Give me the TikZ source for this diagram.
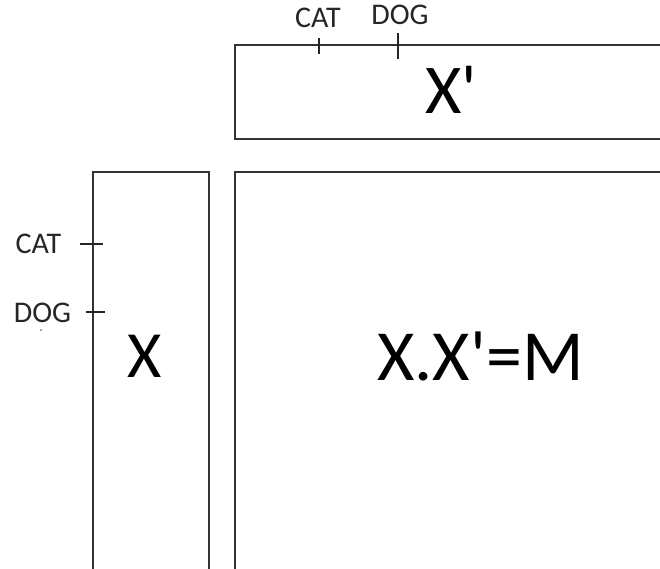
\documentclass[tikz,border=0pt]{standalone}
\usepackage{fontspec}
\setmainfont{Carlito}
\usetikzlibrary{positioning}

\tikzset{
	frame/.style={line width=1.8pt, black!80},
	tickmark/.style={line width=1.5pt, black!85},
	lbl/.style={font=\fontsize{30}{30}\selectfont, inner sep=0pt, text=black!85},
	big/.style={font=\fontsize{#1}{#1}\selectfont, inner sep=0pt, text=black}
}
\newcommand{\prm}{\textquotesingle}

\begin{document}
\begin{tikzpicture}[x=1pt, y=-1pt]
	\useasboundingbox (0, 0) rectangle (660, 569);

	% the three matrices, open where they leave the page
	\draw[frame] (662, 45) -- (235, 45) -- (235, 139) -- (662, 139);
	\draw[frame] (93, 571) -- (93, 172) -- (209, 172) -- (209, 571);
	\draw[frame] (662, 172) -- (235, 172) -- (235, 571);

	% row / column labels
	\node[lbl, anchor=base] (catTop) at (318, 28) {CAT};
	\node[lbl, anchor=base] (dogTop) at (400, 25) {DOG};
	\node[lbl, anchor=base] (catLeft) at (38.5, 253) {CAT};
	\node[lbl, anchor=base] (dogLeft) at (42.5, 322) {DOG};
	\fill[black!70] (41, 330) circle (0.9);

	\draw[tickmark] (319, 38) -- (319, 54);
	\draw[tickmark] (398, 33) -- (398, 59);
	\draw[tickmark] (80, 244) -- (103, 244);
	\draw[tickmark] (86, 312) -- (105, 312);

	% matrix names
	\node[big=70, anchor=base] (xt) at (451, 114) {X\prm};
	\node[big=66, anchor=base] (x) at (145, 377) {X};
	\node[big=72, anchor=base] (m) at (480.5, 380) {X.X\prm=M};
\end{tikzpicture}
\end{document}
